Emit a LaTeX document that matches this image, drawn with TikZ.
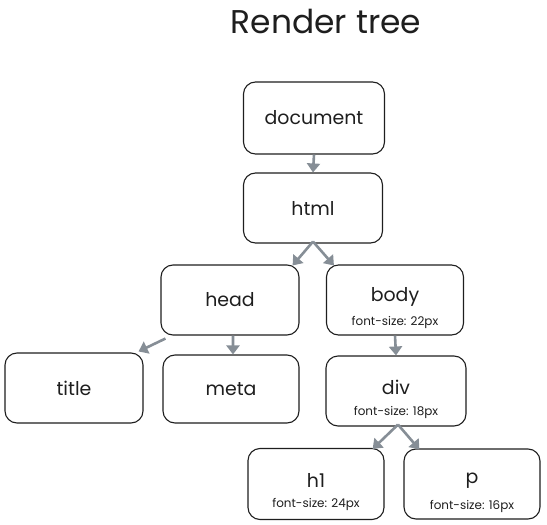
\documentclass[tikz,border=0pt]{standalone}
\usepackage{fontspec}
\setmainfont{Poppins}
\usetikzlibrary{arrows.meta,calc}
\definecolor{ink}{HTML}{1E1E1E}
\definecolor{arrowgray}{HTML}{868E96}
\tikzset{
  box/.style={draw=ink, line width=1.1bp, rounded corners=12bp, fill=white,
    minimum width=138bp, minimum height=70bp, inner sep=0pt, font=\fontsize{19}{21}\selectfont, text=ink},
  lbl/.style={font=\fontsize{19}{21}\selectfont, text=ink, inner sep=0pt},
  small/.style={font=\fontsize{12}{13}\selectfont, text=ink, inner sep=0pt},
  conn/.style={draw=arrowgray, line width=2.6bp, -{Triangle[length=9bp,width=13bp]}},
}
\begin{document}
\begin{tikzpicture}[x=1bp,y=-1bp]
\useasboundingbox (0,0) rectangle (547,525);
\node[font=\fontsize{33}{36}\selectfont, text=ink] (ttl) at (326,21) {Render tree};
\node[box, minimum width=141bp, minimum height=72bp] (doc) at (314,118) {document};
\node[box, minimum width=139bp] (html) at (313,208) {html};
\node[box] (head) at (230,300) {head};
\node[box, minimum width=137bp] (body) at (395,300) {};
\node[lbl] (bodyt) at (395,297) {body};
\node[small] (bodyfs) at (395,322) {font-size: 22px};
\node[box, minimum width=138bp] (title) at (74,388) {title};
\node[box, minimum width=136bp, minimum height=68bp] (meta) at (231,389) {meta};
\node[box, minimum width=140bp] (div) at (396,391) {};
\node[lbl] (divt) at (396,387) {div};
\node[small] (divfs) at (396,412) {font-size: 18px};
\node[box, minimum width=136bp, minimum height=71bp] (h1) at (316,484) {};
\node[lbl] (h1t) at (316,480) {h1};
\node[small] (h1fs) at (316,504) {font-size: 24px};
\node[box, minimum width=136bp] (p) at (472,484) {};
\node[lbl] (pt) at (472,481) {p};
\node[small] (pfs) at (472,506) {font-size: 16px};
\draw[conn] (doc.south) -- (html.north);
\draw[conn] ([yshift=2]html.south) -- ([xshift=-7,yshift=-1]head.north east);
\draw[conn] ([yshift=2]html.south) -- ([xshift=8,yshift=-1]body.north west);
\draw[conn] ([xshift=5,yshift=-3]head.south west) -- ([xshift=-5,yshift=1]title.north east);
\draw[conn] ([xshift=3]head.south) -- ([xshift=2]meta.north);
\draw[conn] (body.south) -- (div.north);
\draw[conn] ([xshift=2,yshift=2]div.south) -- ([xshift=-12,yshift=-1]h1.north east);
\draw[conn] ([xshift=2,yshift=2]div.south) -- ([xshift=16,yshift=-1]p.north west);
\end{tikzpicture}
\end{document}
